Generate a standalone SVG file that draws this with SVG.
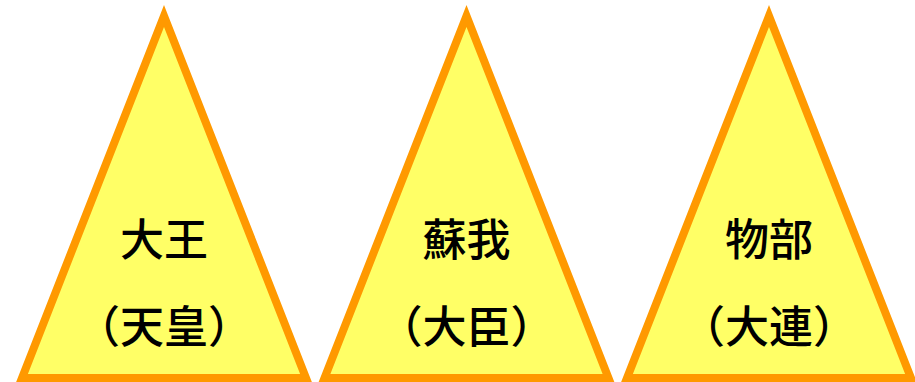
<svg xmlns="http://www.w3.org/2000/svg" width="915" height="382" viewBox="0 0 915 382">
<style>
.tri{fill:#FFFF66;stroke:#FF9900;stroke-width:8;stroke-linejoin:miter;stroke-miterlimit:20}
.t{font-family:"Noto Sans CJK JP","Noto Sans CJK SC",sans-serif;font-size:44px;font-weight:500;fill:#000;text-anchor:middle}
</style>
<rect width="915" height="382" fill="#fff"/>
<g id="n1">
<polygon class="tri" points="164,16 22,378 306,378"/>
<text class="t" x="164" y="256">大王</text>
<text class="t" x="164" y="343">（天皇）</text>
</g>
<g id="n2">
<polygon class="tri" points="466.5,16 324.5,378 608.5,378"/>
<text class="t" x="466.5" y="256">蘇我</text>
<text class="t" x="466.5" y="343">（大臣）</text>
</g>
<g id="n3">
<polygon class="tri" points="769,16 627,378 911,378"/>
<text class="t" x="769" y="256">物部</text>
<text class="t" x="769" y="343">（大連）</text>
</g>
<g id="connectors"/>
</svg>
